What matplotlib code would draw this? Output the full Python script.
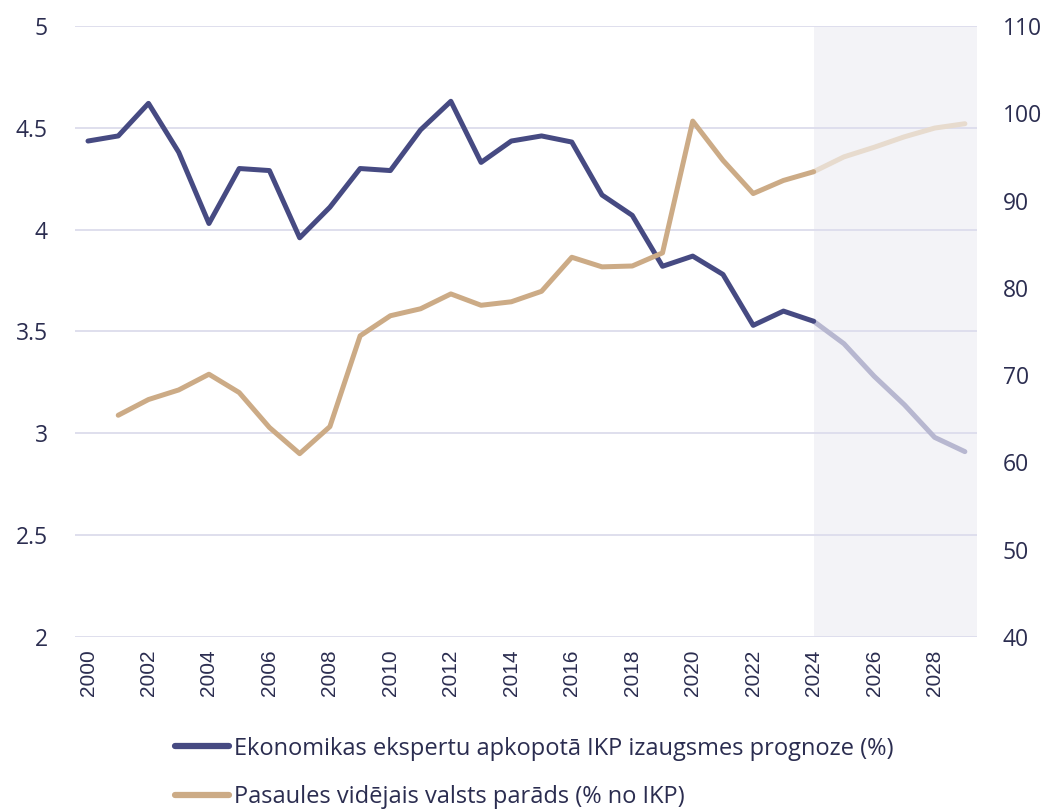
import numpy as np
import matplotlib.pyplot as plt

plt.rcParams['font.family'] = ['Open Sans', 'DejaVu Sans']

years_gdp = list(range(2000, 2030))
gdp = [4.435, 4.46, 4.62, 4.38, 4.03, 4.30, 4.29, 3.96, 4.11, 4.30,
       4.29, 4.49, 4.63, 4.33, 4.435, 4.46, 4.43, 4.17, 4.07, 3.82,
       3.87, 3.78, 3.53, 3.60, 3.55, 3.44, 3.28, 3.14, 2.98, 2.91]

years_debt = list(range(2001, 2030))
debt = [65.4, 67.2, 68.3, 70.1, 68.0, 64.0, 61.0, 64.1, 74.5, 76.8,
        77.6, 79.3, 78.0, 78.4, 79.6, 83.5, 82.4, 82.5, 84.0, 99.1,
        94.6, 90.8, 92.3, 93.3, 95.0, 96.1, 97.3, 98.3, 98.8]

forecast_start = 2024

lbl_gdp = 'Ekonomikas ekspertu apkopotā IKP izaugsmes prognoze (%)'
lbl_debt = 'Pasaules vidējais valsts parāds (% no IKP)'

blue = '#464a82'
blue_light = '#b7b7d0'
gold = '#ccab86'
gold_light = '#e7dbce'
txt = '#2b2d50'
grid = '#dcdcec'

fig = plt.figure(figsize=(10.46, 8.11), dpi=100)
ax = fig.add_axes([0.0717, 0.2146, 0.8623, 0.7534])
ax2 = ax.twinx()

ax.axvspan(forecast_start, 2029.4, color='#f3f3f7', zorder=0, lw=0)

def split(xs, ys):
    xs = np.array(xs); ys = np.array(ys)
    m1 = xs <= forecast_start
    m2 = xs >= forecast_start
    return (xs[m1], ys[m1]), (xs[m2], ys[m2])

(h_x, h_y), (f_x, f_y) = split(years_gdp, gdp)
ax.plot(f_x, f_y, color=blue_light, lw=3.6, solid_capstyle='round', zorder=3)
ax.plot(h_x, h_y, color=blue, lw=3.6, solid_capstyle='round', zorder=4)

(h_x, h_y), (f_x, f_y) = split(years_debt, debt)
ax2.plot(f_x, f_y, color=gold_light, lw=3.6, solid_capstyle='round', zorder=3)
ax2.plot(h_x, h_y, color=gold, lw=3.6, solid_capstyle='round', zorder=4)

ax.set_xlim(1999.57, 2029.4)
ax.set_ylim(2, 5)
ax2.set_ylim(40, 110)
ax.set_yticks([2, 2.5, 3, 3.5, 4, 4.5, 5])
ax.set_yticklabels(['2', '2.5', '3', '3.5', '4', '4.5', '5'])
ax2.set_yticks(range(40, 111, 10))
ax.set_xticks(range(2000, 2029, 2))
ax.set_xticklabels([str(y) for y in range(2000, 2029, 2)], rotation=90,
                   family=['Liberation Sans', 'DejaVu Sans'])

ax.grid(axis='y', color=grid, lw=1.3, zorder=1)
ax.set_axisbelow(True)
for a in (ax, ax2):
    for s in a.spines.values():
        s.set_visible(False)
    a.tick_params(length=0, labelsize=16.5, labelcolor=txt)
ax.tick_params(axis='y', pad=19.5)
ax2.tick_params(axis='y', pad=18.7)
ax.tick_params(axis='x', pad=9, labelsize=15)

h1, = ax.plot([], [], color=blue, lw=4.5, solid_capstyle='round')
h2, = ax.plot([], [], color=gold, lw=4.5, solid_capstyle='round')
fig.legend([h1, h2], [lbl_gdp, lbl_debt], loc='upper left',
           bbox_to_anchor=(0.158, 0.1035), frameon=False, fontsize=17,
           handlelength=2.3, handletextpad=0.2, labelspacing=1.05,
           labelcolor=txt, borderaxespad=0)

fig.savefig('out.png', dpi=100)
